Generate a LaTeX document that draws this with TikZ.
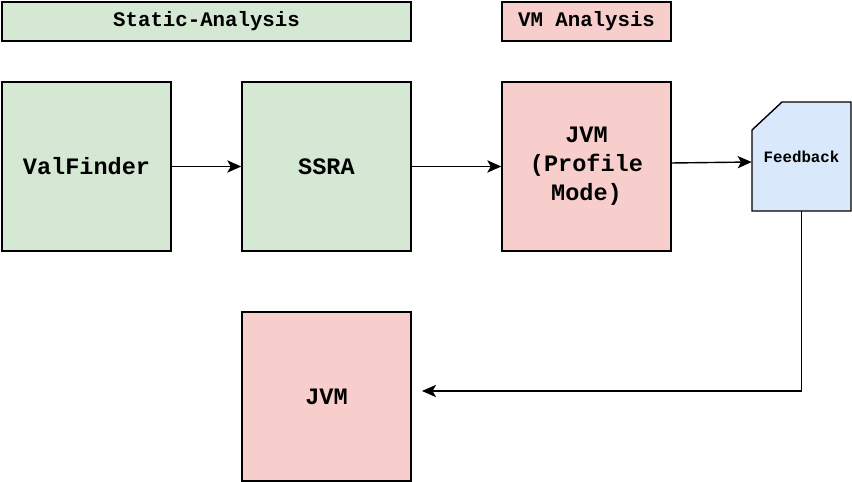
\documentclass[tikz,border=0pt]{standalone}
\usepackage{fontspec}
\setmonofont{Liberation Mono}
\usetikzlibrary{arrows.meta}

\definecolor{sagreen}{HTML}{D5E8D4}
\definecolor{vmred}{HTML}{F8CECC}
\definecolor{fbblue}{HTML}{DAE8FC}

\tikzset{
    box/.style={draw=black, line width=0.8pt, minimum width=3.38cm, minimum height=3.38cm,
        align=center, font=\ttfamily\bfseries\fontsize{13.4}{16.4}\selectfont},
    header/.style={draw=black, line width=0.8pt, minimum height=0.78cm,
        font=\ttfamily\bfseries\fontsize{11.8}{14}\selectfont},
    conn/.style={-{Stealth[length=8pt,width=7pt,inset=2pt]}, line width=0.8pt},
}

\begin{document}
\begin{tikzpicture}[x=0.02cm, y=-0.02cm]
    \useasboundingbox (0,0) rectangle (852,482);

    % headers
    \node[header, fill=sagreen, minimum width=8.18cm] (hstatic) at (206.5,21.5) {Static-Analysis};
    \node[header, fill=vmred, minimum width=3.38cm] (hvm) at (586.5,21.5) {VM Analysis};

    % pipeline
    \node[box, fill=sagreen] (valfinder) at (86.5,166.5) {ValFinder};
    \node[box, fill=sagreen] (ssra) at (326.5,166.5) {SSRA};
    \node[box, fill=vmred] (jvmprof) at (586.5,166.5) {JVM\\(Profile\\Mode)};
    \node[box, fill=vmred] (jvm) at (326.5,396.5) {JVM};

    % feedback (card with cut corner)
    \filldraw[fill=fbblue, line width=0.8pt] (752,211) -- (752,130) -- (782,102)
        -- (851,102) -- (851,211) -- cycle;
    \node[minimum width=1.98cm, minimum height=2.18cm,
        font=\ttfamily\bfseries\fontsize{9}{11}\selectfont] (fb) at (801.5,156.5) {Feedback};
    \coordinate (back) at (422,391);

    % connectors
    \draw[conn] (valfinder) -- (ssra);
    \draw[conn] (ssra) -- (jvmprof);
    \draw[conn] ([yshift=0.07cm]jvmprof.east) -- ([yshift=-0.11cm]fb.west);
    \draw[conn] (fb.south) |- (back);
\end{tikzpicture}
\end{document}
